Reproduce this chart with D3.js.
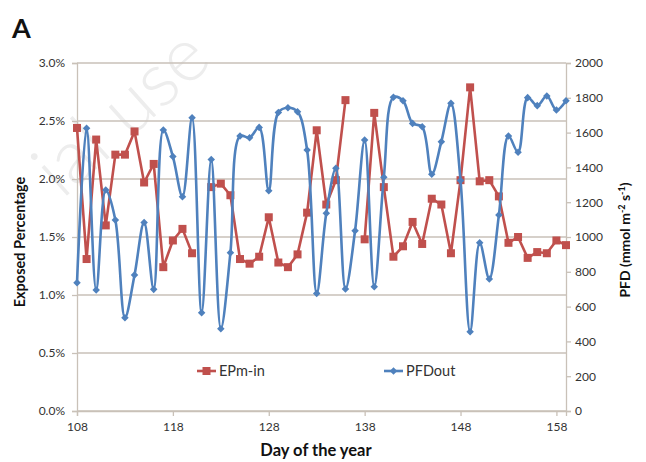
<!DOCTYPE html>
<html>
<head>
<meta charset="utf-8">
<script src="https://cdn.jsdelivr.net/npm/d3@7"></script>
<style>
    body { margin: 0; background: white; }
    svg text { font-family: Lato, "Open Sans", sans-serif; }
</style>
</head>
<body>
<div id="chart"></div>
<script>
// Data
//
var days = [108, 109, 110, 111, 112, 113, 114, 115, 116, 117,
            118, 119, 120, 121, 122, 123, 124, 125, 126, 127,
            128, 129, 130, 131, 132, 133, 134, 135, 136, 137,
            138, 139, 140, 141, 142, 143, 144, 145, 146, 147,
            148, 149, 150, 151, 152, 153, 154, 155, 156, 157,
            158, 159];

// EPm-in, exposed percentage (left axis), null = no value
//
var epmIn = [2.44, 1.31, 2.34, 1.60, 2.21, 2.21, 2.41, 1.97, 2.13, 1.24,
             1.47, 1.57, 1.36, null, 1.93, 1.96, 1.86, 1.31, 1.27, 1.33,
             1.67, 1.28, 1.24, 1.35, 1.71, 2.42, 1.78, 1.99, 2.68, null,
             1.48, 2.57, 1.93, 1.33, 1.42, 1.63, 1.44, 1.83, 1.78, 1.36,
             1.99, 2.79, 1.98, 1.99, 1.85, 1.45, 1.50, 1.32, 1.37, 1.36,
             1.47, 1.43];

// PFDout, mmol m-2 s-1 (right axis)
//
var pfdOut = [737, 1625, 695, 1270, 1098, 536, 782, 1084, 699, 1615,
              1462, 1232, 1686, 565, 1446, 473, 910, 1580, 1571, 1630,
              1266, 1716, 1743, 1720, 1500, 676, 1136, 1395, 701, 1036,
              1557, 714, 1343, 1803, 1783, 1653, 1634, 1360, 1548, 1768,
              1324, 456, 967, 759, 1126, 1580, 1487, 1801, 1755, 1810,
              1730, 1783];

var xTicks     = [108, 118, 128, 138, 148, 158];
var leftTicks  = [0, 0.5, 1.0, 1.5, 2.0, 2.5, 3.0];
var rightTicks = [0, 200, 400, 600, 800, 1000, 1200, 1400, 1600, 1800, 2000];

// Set globals
//
var svg_width  = 646;
var svg_height = 462;

var x_box_min = 77;
var x_box_max = 566;
var y_box_min = 63;
var y_box_max = 411;

var red       = '#C0504D';
var blue      = '#4F81BD';
var gridColor = '#c9c1b8';
var textColor = '#333333';

var x  = d3.scaleLinear().domain([108, 159]).range([x_box_min, x_box_max]);
var yL = d3.scaleLinear().domain([0, 3.0]).range([y_box_max, y_box_min]);
var yR = d3.scaleLinear().domain([0, 2000]).range([y_box_max, y_box_min]);

var svg = d3.select('#chart').append('svg')
    .attr('width', svg_width)
    .attr('height', svg_height)
    .attr('viewBox', `0 0 ${svg_width} ${svg_height}`);

// Faint watermark
//
svg.append('text')
    .attr('transform', 'translate(62,200) rotate(-42)')
    .style('font-size', '76px')
    .style('font-weight', '300')
    .style('fill', '#ededed')
    .text('ial use');

// Panel letter
//
svg.append('text')
    .attr('x', 12)
    .attr('y', 38)
    .style('font-size', '27px')
    .style('font-weight', '700')
    .style('fill', '#111')
    .text('A');

// Horizontal gridlines
//
svg.append('g')
    .selectAll('line')
    .data(leftTicks)
    .join('line')
    .attr('x1', x_box_min)
    .attr('x2', x_box_max)
    .attr('y1', d => yL(d))
    .attr('y2', d => yL(d))
    .attr('stroke', gridColor)
    .attr('stroke-width', 1.3);

// Axes
//
function styleAxis(g) {
    g.select('.domain').attr('stroke', gridColor).attr('stroke-width', 1.3);
    g.selectAll('.tick line').attr('stroke', gridColor).attr('stroke-width', 1.3);
    g.selectAll('.tick text')
        .style('font-size', '12px')
        .style('fill', textColor);
}

svg.append('g')
    .attr('transform', `translate(${x_box_min},0)`)
    .call(d3.axisLeft(yL).tickValues(leftTicks).tickSize(5).tickPadding(7)
        .tickFormat(d => d.toFixed(1) + '%'))
    .call(styleAxis);

svg.append('g')
    .attr('transform', `translate(${x_box_max},0)`)
    .call(d3.axisRight(yR).tickValues(rightTicks).tickSize(5).tickPadding(4)
        .tickFormat(d3.format('d')))
    .call(styleAxis);

svg.append('g')
    .attr('transform', `translate(0,${y_box_max})`)
    .call(d3.axisBottom(x).tickValues(xTicks).tickSize(5).tickPadding(6)
        .tickFormat(d3.format('d')))
    .call(styleAxis);

// Axis titles
//
svg.append('text')
    .attr('transform', `translate(25,${(y_box_min + y_box_max) / 2 + 5}) rotate(-90)`)
    .attr('text-anchor', 'middle')
    .style('font-size', '14.5px')
    .style('font-weight', '700')
    .style('fill', '#111')
    .text('Exposed Percentage');

let rTitle = svg.append('text')
    .attr('transform', `translate(630,${(y_box_min + y_box_max) / 2 + 3}) rotate(-90)`)
    .attr('text-anchor', 'middle')
    .style('font-size', '14px')
    .style('font-weight', '700')
    .style('fill', '#111');
rTitle.append('tspan').text('PFD (mmol m');
rTitle.append('tspan').attr('dy', -5).style('font-size', '9px').text('-2');
rTitle.append('tspan').attr('dy', 5).text(' s');
rTitle.append('tspan').attr('dy', -5).style('font-size', '9px').text('-1');
rTitle.append('tspan').attr('dy', 5).text(')');

svg.append('text')
    .attr('x', 316)
    .attr('y', 456)
    .attr('text-anchor', 'middle')
    .style('font-size', '16.5px')
    .style('font-weight', '700')
    .style('fill', '#111')
    .text('Day of the year');

// Series lines
//
let redLine = d3.line()
    .defined(d => d[1] !== null)
    .x(d => x(d[0]))
    .y(d => yL(d[1]));

let blueLine = d3.line()
    .x(d => x(d[0]))
    .y(d => yR(d[1]))
    .curve(d3.curveCatmullRom.alpha(0.5));

let redData  = days.map((d, i) => [d, epmIn[i]]);
let blueData = days.map((d, i) => [d, pfdOut[i]]);

svg.append('path')
    .datum(redData)
    .attr('d', redLine)
    .attr('fill', 'none')
    .attr('stroke', red)
    .attr('stroke-width', 2.6)
    .attr('stroke-linejoin', 'round');

svg.append('g')
    .selectAll('rect')
    .data(redData.filter(d => d[1] !== null))
    .join('rect')
    .attr('x', d => x(d[0]) - 4)
    .attr('y', d => yL(d[1]) - 4)
    .attr('width', 8)
    .attr('height', 8)
    .attr('fill', red);

svg.append('path')
    .datum(blueData)
    .attr('d', blueLine)
    .attr('fill', 'none')
    .attr('stroke', blue)
    .attr('stroke-width', 2.6)
    .attr('stroke-linejoin', 'round');

let diamond = d3.symbol().type(d3.symbolDiamond2).size(36);

svg.append('g')
    .selectAll('path')
    .data(blueData)
    .join('path')
    .attr('transform', d => `translate(${x(d[0])},${yR(d[1])})`)
    .attr('d', diamond)
    .attr('fill', blue);

// Legend
//
function legendItem(x0, color, label, marker) {
    let g = svg.append('g');
    g.append('line')
        .attr('x1', x0)
        .attr('x2', x0 + 19)
        .attr('y1', 371)
        .attr('y2', 371)
        .attr('stroke', color)
        .attr('stroke-width', 2.6);
    if(marker === 'square') {
        g.append('rect')
            .attr('x', x0 + 9.5 - 4)
            .attr('y', 367)
            .attr('width', 8)
            .attr('height', 8)
            .attr('fill', color);
    } else {
        g.append('path')
            .attr('transform', `translate(${x0 + 9.5},371)`)
            .attr('d', diamond)
            .attr('fill', color);
    }
    g.append('text')
        .attr('x', x0 + 22)
        .attr('y', 376)
        .style('font-size', '14.5px')
        .style('fill', textColor)
        .text(label);
}

legendItem(197, red, 'EPm-in', 'square');
legendItem(384, blue, 'PFDout', 'diamond');
</script>
</body>
</html>
